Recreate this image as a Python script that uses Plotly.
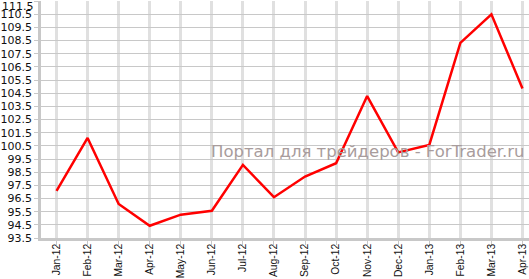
import plotly.graph_objects as go

months = ["Jan-12", "Feb-12", "Mar-12", "Apr-12", "May-12", "Jun-12", "Jul-12", "Aug-12",
          "Sep-12", "Oct-12", "Nov-12", "Dec-12", "Jan-13", "Feb-13", "Mar-13", "Apr-13"]
values = [97.08, 101.1, 96.08, 94.43, 95.27, 95.57, 99.05, 96.6,
          98.17, 99.18, 104.28, 100.0, 100.57, 108.32, 110.49, 104.86]
y_ticks = [93.5 + i for i in range(19)]
y_ticklabels = [f"{v:.1f}" for v in y_ticks]
watermark = "Портал для трейдеров - ForTrader.ru"

fig = go.Figure()
fig.add_trace(go.Scatter(
    x=list(range(len(months))), y=values, mode="lines",
    line=dict(color="#ff0000", width=2.5), hoverinfo="skip", showlegend=False,
))

ticktext = list(y_ticklabels)
ticktext[-1] = ""

fig.update_layout(
    width=529, height=279,
    margin=dict(l=41, r=0, t=1, b=41),
    paper_bgcolor="white", plot_bgcolor="white",
    font=dict(family="DejaVu Sans, Verdana, sans-serif", size=11, color="#111111"),
    xaxis=dict(
        range=[-0.5, 15.21], tickmode="array", tickvals=list(range(len(months))),
        ticktext=months, tickangle=-90, showgrid=True, gridcolor="#e0e0e0", gridwidth=2.5,
        zeroline=False, showline=True, linecolor="#c8c8c8", linewidth=2.5,
        ticks="outside", ticklen=4, tickcolor="#c8c8c8", automargin=False,
        ticklabelstandoff=-5,
        tickfont=dict(size=10.3, family="Liberation Sans, Arial, sans-serif", color="#111111"),
    ),
    yaxis=dict(
        range=[93.5, 111.5], tickmode="array", tickvals=y_ticks, ticktext=ticktext,
        showgrid=True, gridcolor="#c8c8c8", gridwidth=1, zeroline=False,
        showline=True, linecolor="#c8c8c8", linewidth=2.5, automargin=False,
        ticks="outside", ticklen=4, tickcolor="#c8c8c8", tickfont=dict(size=11),
    ),
    annotations=[
        dict(text=y_ticklabels[-1], xref="paper", yref="y", x=0, y=y_ticks[-1],
             xanchor="right", yanchor="middle", xshift=-6, yshift=-5, showarrow=False,
             borderpad=0, font=dict(size=11, color="#111111")),
        dict(text=watermark, xref="paper", yref="paper", x=0.67, y=0.365,
             xanchor="center", yanchor="middle", showarrow=False,
             font=dict(size=16.5, color="#a89c9c", family="DejaVu Sans, sans-serif")),
    ],
)

fig.write_html("out.html")
